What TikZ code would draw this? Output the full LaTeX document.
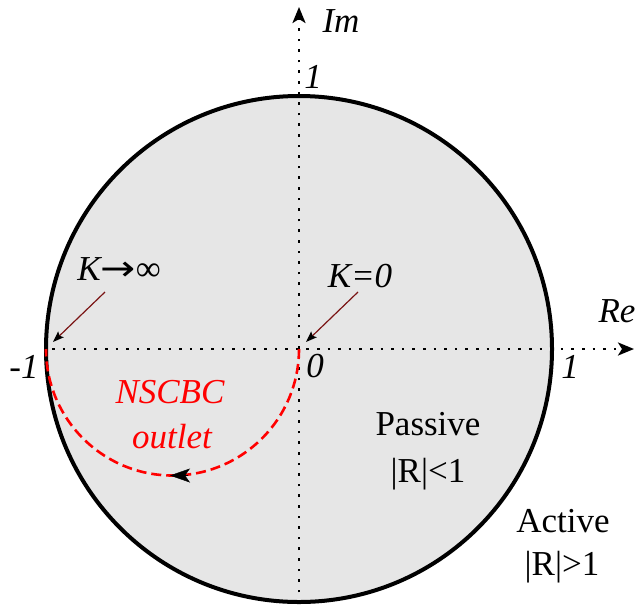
\documentclass[tikz,border=0pt]{standalone}
\usepackage{fontspec}
\setmainfont{Liberation Serif}[ItalicFont={Liberation Serif Italic}]
\newfontfamily\arrowfont{DejaVu Sans}
\usetikzlibrary{arrows.meta}
\definecolor{diskgray}{HTML}{E6E6E6}
\definecolor{pointer}{HTML}{7A1414}
\begin{document}
\begin{tikzpicture}[x=1pt,y=-1pt,
  lbl/.style={font=\fontsize{35}{40}\selectfont\itshape,anchor=base,inner sep=0pt},
  rlbl/.style={font=\fontsize{35}{40}\selectfont,anchor=base,inner sep=0pt,align=center},
  axis/.style={line width=2.6pt,dash pattern=on 2.6pt off 8pt,-{Stealth[length=16pt,width=13pt,inset=4pt]}},
  pointerline/.style={pointer,line width=1.2pt,-{Stealth[black,length=11pt,width=8pt,inset=2pt]}},
  nscbc/.style={red,line width=2.6pt,dash pattern=on 10pt off 5pt}
]
\useasboundingbox (0,0) rectangle (636,608);
% disk
\coordinate (O) at (299,349);
\filldraw[fill=diskgray,draw=black,line width=4pt] (O) circle[radius=253];
% axes
\coordinate (xstart) at (52,349);
\coordinate (xend) at (634,349);
\coordinate (ystart) at (299,603);
\coordinate (yend) at (299,7);
\draw[axis] (xstart) -- (xend);
\draw[axis] (ystart) -- (yend);
% NSCBC path
\draw[nscbc] (O) arc[start angle=0,end angle=180,radius=126.5];
\coordinate (arra) at (188,475.5);
\coordinate (arrb) at (170,475.5);
\draw[black,-{Stealth[length=20pt,width=14pt,inset=5pt]}] (arra) -- (arrb);
% labels
\node[lbl] (im) at (341,32) {Im};
\node[lbl] (one top) at (313,88) {1};
\node[lbl] (re) at (617,322) {Re};
\node[lbl] (one right) at (570,378) {1};
\node[lbl] (mone) at (24,378) {-1};
\node[lbl] (zero) at (315,377) {0};
\node[lbl] (kinf) at (119,280) {K\upshape\scalebox{1.2}[1]{\arrowfont →}∞};
\node[lbl] (kzero) at (360,287) {K=0};
\node[lbl,red] (ns) at (170,403) {NSCBC};
\node[lbl,red] (outlet) at (172,448) {outlet};
\node[rlbl] (passive) at (428,435) {Passive};
\node[rlbl] (rlt) at (428,482) {|R|<1};
\node[rlbl] (active) at (563,532) {Active};
\node[rlbl] (rgt) at (562,575) {|R|>1};
% pointers
\coordinate (p1s) at (105,292);
\coordinate (p1e) at (53,342);
\coordinate (p2s) at (358,292);
\coordinate (p2e) at (306,342);
\draw[pointerline] (p1s) -- (p1e);
\draw[pointerline] (p2s) -- (p2e);
\end{tikzpicture}
\end{document}
